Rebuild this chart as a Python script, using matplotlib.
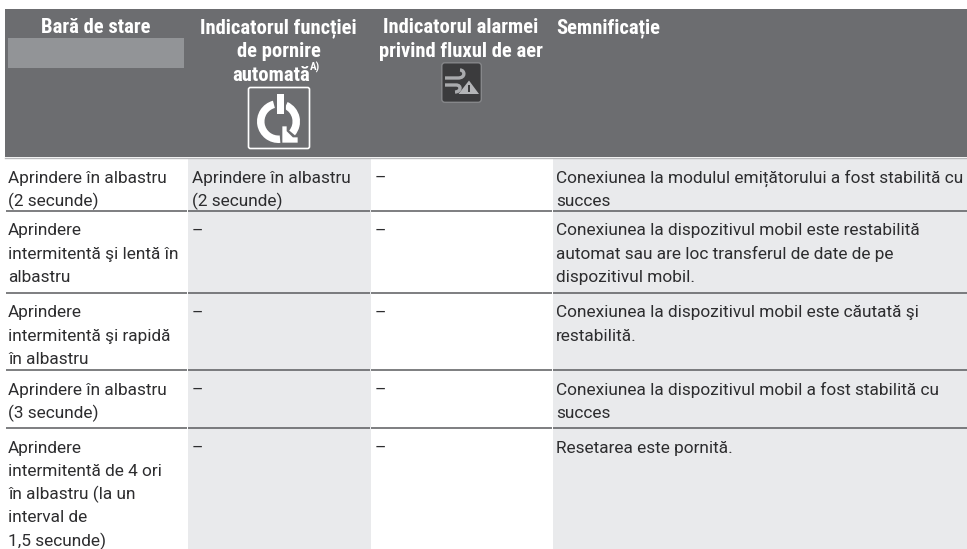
import matplotlib
matplotlib.use("Agg")
import matplotlib.pyplot as plt
from matplotlib.patches import Rectangle, FancyBboxPatch, Wedge, Polygon, PathPatch
from matplotlib.path import Path

headers = [["Bară de stare"],
           ["Indicatorul funcției", "de pornire", "automată"],
           ["Indicatorul alarmei", "privind fluxul de aer"],
           ["Semnificație"]]

status_bar = [["Aprindere în albastru", "(2 secunde)"],
              ["Aprindere", "intermitentă şi lentă în", "albastru"],
              ["Aprindere", "intermitentă şi rapidă", "în albastru"],
              ["Aprindere în albastru", "(3 secunde)"],
              ["Aprindere", "intermitentă de 4 ori", "în albastru (la un", "interval de", "1,5 secunde)"]]

autostart = [["Aprindere în albastru", "(2 secunde)"], ["–"], ["–"], ["–"], ["–"]]
airflow = [["–"], ["–"], ["–"], ["–"], ["–"]]

meaning = [["Conexiunea la modulul emițătorului a fost stabilită cu", "succes"],
           ["Conexiunea la dispozitivul mobil este restabilită",
            "automat sau are loc transferul de date de pe", "dispozitivul mobil."],
           ["Conexiunea la dispozitivul mobil este căutată şi", "restabilită."],
           ["Conexiunea la dispozitivul mobil a fost stabilită cu", "succes"],
           ["Resetarea este pornită."]]

col_edges = [5, 187.5, 370.5, 552.5, 967]
row_tops = [158, 211, 293, 370, 428]
text_x = [8, 191.5, 375, 556]

HEAD = "#6c6d70"
SHADE = "#e9eaec"
LINE = "#5a5b5e"
INK = "#2d2d2f"

fig = plt.figure(figsize=(9.67, 5.49), dpi=100)
ax = fig.add_axes([0, 0, 1, 1])
ax.set_xlim(0, 967)
ax.set_ylim(549, 0)
ax.axis("off")

# header block and grey swatch
ax.add_patch(Rectangle((5, 9), 962, 148, fc=HEAD, ec="none"))
ax.add_patch(Rectangle((8, 38), 176, 30, fc="#929497", ec="none"))

# shaded columns
ax.add_patch(Rectangle((187.5, 158.5), 183, 391, fc=SHADE, ec="none"))
ax.add_patch(Rectangle((552.5, 158.5), 415, 391, fc=SHADE, ec="none"))

# row rules, broken at the column edges
for top in row_tops[1:]:
    for i in range(4):
        ax.plot([col_edges[i] + 0.5, col_edges[i + 1] - 0.5], [top, top], color=LINE, lw=1.1,
                solid_capstyle="butt")
ax.plot([5, 967], [157.5, 157.5], color="#b9babc", lw=1)

head_font = dict(family=["Roboto Condensed", "Liberation Sans Narrow", "Roboto"], fontsize=14.9,
                 fontweight="bold", color="white", va="baseline")
for lines, cx in zip(headers[:3], [96, 278.5, 461]):
    for i, s in enumerate(lines):
        # the superscript sits on the same centred line as "automată"
        x = 271 if s == "automată" else cx
        ax.text(x, 33 + i * 24, s, ha="center", **head_font)
ax.text(556.5, 33, headers[3][0], ha="left", **head_font)
ax.text(310, 71, "A)", ha="left", **{**head_font, "fontsize": 8})

body_font = dict(family=["Roboto", "DejaVu Sans"], fontsize=12.4, color=INK, va="baseline", ha="left")
for col, x in zip([status_bar, autostart, airflow, meaning], text_x):
    for cell, top in zip(col, row_tops):
        for i, s in enumerate(cell):
            ax.text(x, top + 24.5 + i * 23.3, s, **body_font)

# auto start icon
ax.add_patch(FancyBboxPatch((248.5, 87.5), 61, 61, boxstyle="round,pad=0,rounding_size=2",
                            fc="none", ec="white", lw=1.2))
ax.add_patch(Wedge((278.5, 121.5), 21.5, 85, 255, width=7.5, fc="white", ec="none"))
ax.add_patch(Wedge((278.5, 121.5), 21.5, -65, 40, width=7.5, fc="white", ec="none"))
ax.add_patch(Rectangle((277, 94), 7, 20, fc=HEAD, ec=HEAD, lw=2))
ax.add_patch(Rectangle((277, 94), 7, 20, fc="white", ec="none"))
ax.add_patch(Polygon([(282, 126), (287, 126), (287, 131), (293, 137), (298, 137), (298, 143),
                      (282, 143)], fc="white", ec=HEAD, lw=0.5))

# air flow alarm icon
ax.add_patch(FancyBboxPatch((441.8, 62.8), 39.5, 39.5, boxstyle="round,pad=0,rounding_size=3",
                            fc="#3b3b3d", ec="#86878a", lw=1))
wind = dict(fc="none", ec="#a9aaad", lw=2.4)
ax.add_patch(PathPatch(Path([(445, 78), (458, 78), (466, 78), (465, 70), (460, 70)],
                            [Path.MOVETO, Path.LINETO, Path.CURVE4, Path.CURVE4, Path.CURVE4]), **wind))
ax.add_patch(PathPatch(Path([(445, 85), (456, 85), (462, 85), (461, 92), (455, 92)],
                            [Path.MOVETO, Path.LINETO, Path.CURVE4, Path.CURVE4, Path.CURVE4]), **wind))
ax.add_patch(Polygon([(469, 80.5), (479, 94), (458.5, 94)], fc="#b4b5b8", ec="none"))
ax.add_patch(Rectangle((468, 85), 2, 4.5, fc="#3b3b3d", ec="none"))
ax.add_patch(Rectangle((468, 90.3), 2, 2, fc="#3b3b3d", ec="none"))

fig.savefig("out.png", dpi=100)
